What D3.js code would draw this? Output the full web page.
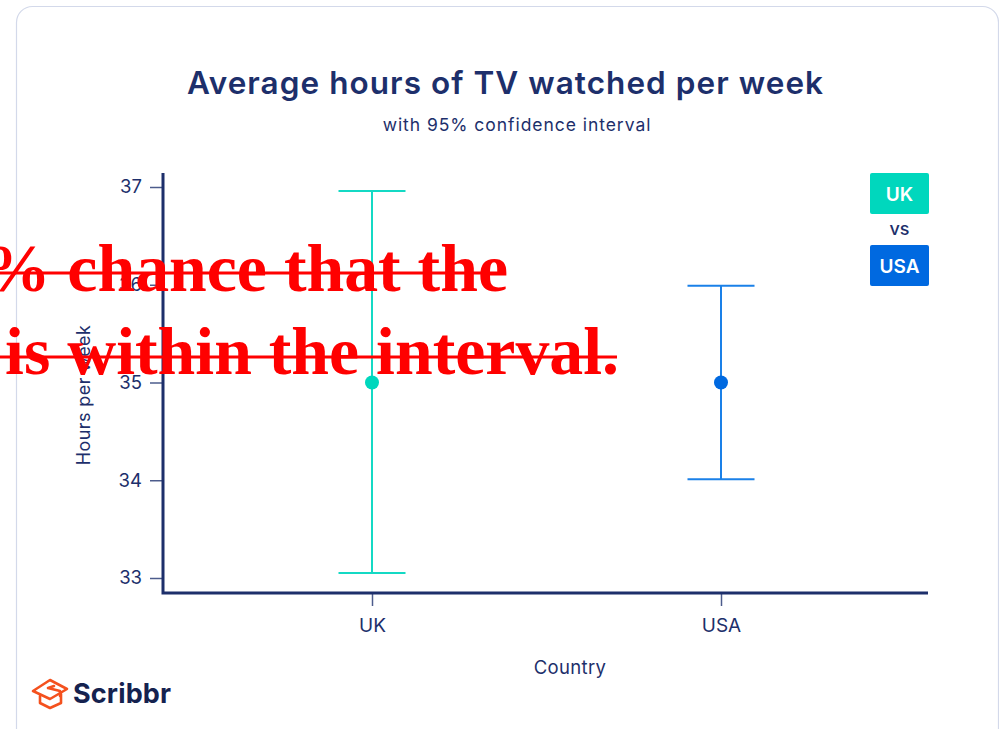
<!DOCTYPE html>
<html><head><meta charset="utf-8">
<script src="https://cdn.jsdelivr.net/npm/d3@7/dist/d3.min.js"></script>
<style>
html,body{margin:0;padding:0;background:#fff;overflow:hidden}
svg{display:block}
text{font-family:Inter,"Noto Sans",sans-serif}
</style></head><body>
<svg id="c" width="999" height="729"></svg>
<script>
const categories = ["UK","USA"];
const means = [35,35];
const lowers = [33.05,34.01];
const uppers = [36.96,35.99];
const dotColors = ["#00d7bd","#0069e0"];
const lineColors = ["#14d9c4","#1a80e8"];
const yTicks = [33,34,35,36,37];
const titleText = "Average hours of TV watched per week";
const subtitleText = "with 95% confidence interval";
const xLabel = "Country";
const yLabel = "Hours per week";
const overlayLines = ["95% chance that the","mean is within the interval."];

const navy = "#1d2f6b";
const svg = d3.select("#c");

svg.append("rect").attr("x",16.5).attr("y",6.5).attr("width",982).attr("height",760).attr("rx",16)
  .attr("fill","#fff").attr("stroke","#d3d9ea").attr("stroke-width",1.2);

svg.append("text").attr("x",505.5).attr("y",93.5).attr("text-anchor","middle")
  .attr("font-size",31.5).attr("font-weight",600).attr("letter-spacing",1.05).attr("fill",navy).text(titleText);
svg.append("text").attr("x",517).attr("y",131).attr("text-anchor","middle")
  .attr("font-size",17.5).attr("letter-spacing",0.95).attr("fill",navy).text(subtitleText);

const y = d3.scaleLinear().domain([33,37]).range([578,187]);
const x = d3.scalePoint().domain(categories).range([372,721]);

const axisBottomY = 593, axisLeftX = 163, axisRight = 928, axisTop = 173;

const gy = svg.append("g").attr("transform",`translate(${axisLeftX},0)`)
  .call(d3.axisLeft(y).tickValues(yTicks).tickFormat(d3.format("d")).tickSize(13).tickPadding(8));
gy.select(".domain").remove();
gy.selectAll("line").attr("stroke","#4d5c8c").attr("stroke-width",1.5);
gy.selectAll("text").attr("font-size",18.5).attr("fill",navy).style("font-family","Inter,sans-serif");

const gx = svg.append("g").attr("transform",`translate(0,${axisBottomY})`)
  .call(d3.axisBottom(x).tickSize(13).tickPadding(13));
gx.select(".domain").remove();
gx.selectAll("line").attr("stroke","#4d5c8c").attr("stroke-width",1.5);
gx.selectAll("text").attr("font-size",19).attr("fill",navy).style("font-family","Inter,sans-serif");

svg.append("path").attr("d",`M${axisLeftX},${axisTop}V${axisBottomY}H${axisRight}`)
  .attr("fill","none").attr("stroke",navy).attr("stroke-width",3);

svg.append("text").attr("x",570).attr("y",674).attr("text-anchor","middle")
  .attr("font-size",18.5).attr("letter-spacing",0.35).attr("fill",navy).text(xLabel);
svg.append("text").attr("transform","translate(90,395) rotate(-90)").attr("text-anchor","middle")
  .attr("font-size",18).attr("letter-spacing",0.4).attr("fill",navy).text(yLabel);

const capHalf = 33.5;
const g = svg.selectAll("g.ci").data(categories).join("g").attr("class","ci");
g.append("line").attr("x1",d=>x(d)).attr("x2",d=>x(d))
  .attr("y1",(d,i)=>y(lowers[i])).attr("y2",(d,i)=>y(uppers[i]))
  .attr("stroke",(d,i)=>lineColors[i]).attr("stroke-width",2);
g.append("line").attr("x1",d=>x(d)-capHalf).attr("x2",d=>x(d)+capHalf)
  .attr("y1",(d,i)=>y(uppers[i])).attr("y2",(d,i)=>y(uppers[i]))
  .attr("stroke",(d,i)=>lineColors[i]).attr("stroke-width",2);
g.append("line").attr("x1",d=>x(d)-capHalf).attr("x2",d=>x(d)+capHalf)
  .attr("y1",(d,i)=>y(lowers[i])).attr("y2",(d,i)=>y(lowers[i]))
  .attr("stroke",(d,i)=>lineColors[i]).attr("stroke-width",2);
g.append("circle").attr("cx",d=>x(d)).attr("cy",(d,i)=>y(means[i])).attr("r",7)
  .attr("fill",(d,i)=>dotColors[i]);

// legend
const legY = d3.scalePoint().domain(categories).range([173,245]);
const leg = svg.selectAll("g.leg").data(categories).join("g").attr("class","leg")
  .attr("transform",d=>`translate(870,${legY(d)})`);
leg.append("rect").attr("width",59).attr("height",41).attr("rx",2).attr("fill",(d,i)=>dotColors[i]);
leg.append("text").attr("x",29.5).attr("y",28).attr("text-anchor","middle")
  .attr("font-size",19).attr("font-weight",600).attr("fill","#fff").text(d=>d);
svg.append("text").attr("x",899.5).attr("y",235).attr("text-anchor","middle")
  .attr("font-size",18).attr("font-weight",500).attr("fill",navy).text("vs");

// logo
const logo = svg.append("g").attr("fill","none").attr("stroke","#f4511e").attr("stroke-width",2.6).attr("stroke-linejoin","round").attr("stroke-linecap","round");
logo.append("path").attr("d","M33,691 L50,680 L67,689 L50,699 Z");
logo.append("path").attr("d","M40,696 V703 L50,708 L61,703 V694");
logo.append("path").attr("d","M48,688 L60,691 V696 M48,688 L54,686");
svg.append("text").attr("x",73).attr("y",703).attr("font-size",27).attr("font-weight",700).attr("letter-spacing",0.15).attr("fill","#15224f").text("Scribbr");

// red overlay
const overlayEnds = [508,619], overlayBase = [291,374], strikeY = [273,357], strikeEnds = [503,617];
const ov = svg.append("g");
ov.selectAll("text").data(overlayLines).join("text")
  .attr("x",(d,i)=>overlayEnds[i]).attr("y",(d,i)=>overlayBase[i]).attr("text-anchor","end")
  .style("font-family","'Liberation Serif',serif").attr("font-weight",700).attr("font-size",67.8).attr("fill","#ff0000")
  .text(d=>d);
ov.selectAll("line").data(overlayLines).join("line")
  .attr("x1",0).attr("x2",(d,i)=>strikeEnds[i]).attr("y1",(d,i)=>strikeY[i]).attr("y2",(d,i)=>strikeY[i])
  .attr("stroke","#ff0000").attr("stroke-width",3);
</script></body></html>
